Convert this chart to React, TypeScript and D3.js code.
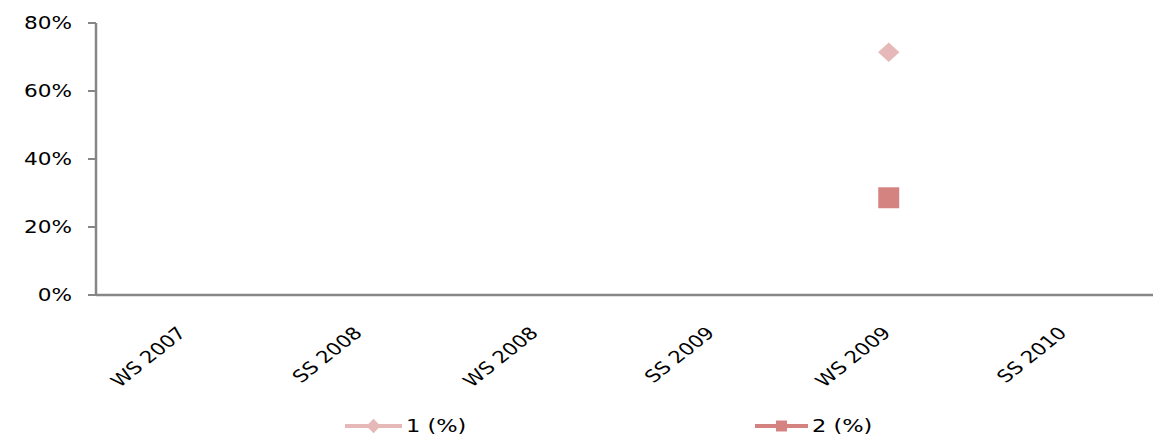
import React from "react";
import * as d3 from "d3";

const categories = ["WS 2007", "SS 2008", "WS 2008", "SS 2009", "WS 2009", "SS 2010"];
const series1: (number | null)[] = [null, null, null, null, 71.4, null];
const series2: (number | null)[] = [null, null, null, null, 28.6, null];
const yTicks = [0, 20, 40, 60, 80];
const seriesNames = ["1 (%)", "2 (%)"];
const colors = ["#E6B9B8", "#D48380"];

export default function App() {
  const W = 1153, H = 440;
  const left = 96, right = 1153, top = 23, bottom = 295;
  const sx = 1.25;
  const x = d3.scaleBand<string>().domain(categories).range([left, right]);
  const y = d3.scaleLinear().domain([0, 80]).range([bottom, top]);
  const font = "'DejaVu Sans', Verdana, sans-serif";
  const diamond = d3.symbol().type(d3.symbolDiamond2 ?? d3.symbolSquare).size(240)();
  const sq = d3.symbol().type(d3.symbolSquare).size(440)();
  const legendItems = [
    { x0: 345, x1: 402, name: seriesNames[0], color: colors[0], kind: "diamond" },
    { x0: 755, x1: 808, name: seriesNames[1], color: colors[1], kind: "square" },
  ];
  return (
    <svg width={W} height={H} style={{ position: "absolute", left: 0, top: 0 }}>
      <rect width={W} height={H} fill="#fff" />
      {yTicks.map((t) => (
        <g key={t}>
          <line x1={88} x2={left} y1={y(t)} y2={y(t)} stroke="#868686" strokeWidth={2} />
          <text
            transform={`translate(72,${y(t)}) scale(1.2,1)`}
            dy="0.35em"
            textAnchor="end"
            fontFamily={font}
            fontSize={18}
            fill="#000"
          >
            {t}%
          </text>
        </g>
      ))}
      <line x1={left} x2={left} y1={top} y2={bottom + 1} stroke="#868686" strokeWidth={2.5} />
      <line x1={left} x2={right} y1={bottom} y2={bottom} stroke="#868686" strokeWidth={2.5} />
      {categories.map((c) => {
        const cx = x(c)! + x.bandwidth() / 2;
        return (
          <text
            key={c}
            transform={`translate(${cx + 3},${334}) scale(${sx},1) rotate(-45)`}
            textAnchor="end"
            fontFamily={font}
            fontSize={17}
            fill="#000"
          >
            {c}
          </text>
        );
      })}
      {series1.map((v, i) =>
        v == null ? null : (
          <path
            key={"a" + i}
            d={diamond!}
            transform={`translate(${x(categories[i])! + x.bandwidth() / 2},${y(v)}) scale(1.1,1)`}
            fill={colors[0]}
          />
        )
      )}
      {series2.map((v, i) =>
        v == null ? null : (
          <path
            key={"b" + i}
            d={sq!}
            transform={`translate(${x(categories[i])! + x.bandwidth() / 2},${y(v)})`}
            fill={colors[1]}
          />
        )
      )}
      {legendItems.map((it) => {
        const cx = (it.x0 + it.x1) / 2;
        const cy = 426;
        return (
          <g key={it.name}>
            <line x1={it.x0} x2={it.x1} y1={cy} y2={cy} stroke={it.color} strokeWidth={4} />
            {it.kind === "diamond" ? (
              <path d={d3.symbol().type(d3.symbolDiamond2 ?? d3.symbolSquare).size(130)()!} transform={`translate(${cx},${cy})`} fill={it.color} />
            ) : (
              <path d={d3.symbol().type(d3.symbolSquare).size(120)()!} transform={`translate(${cx},${cy})`} fill={it.color} />
            )}
            <text
              transform={`translate(${it.x1 + 4},${cy}) scale(${sx},1)`}
              dy="0.35em"
              fontFamily={font}
              fontSize={18}
              fill="#000"
            >
              {it.name}
            </text>
          </g>
        );
      })}
    </svg>
  );
}
